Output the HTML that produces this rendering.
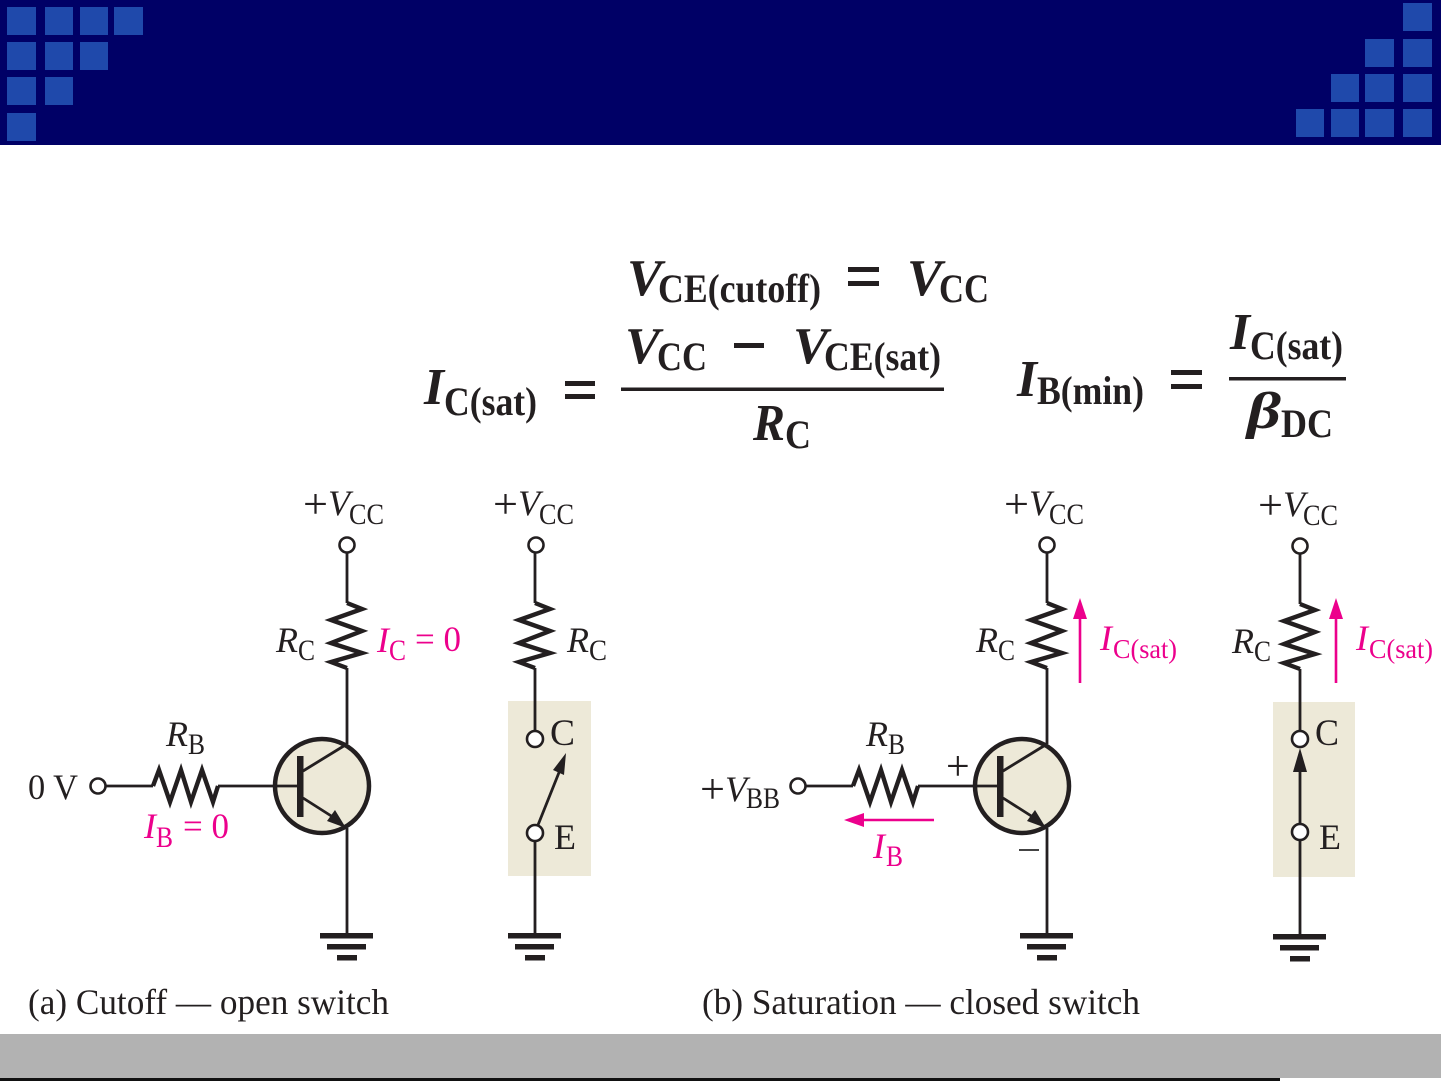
<!DOCTYPE html>
<html><head><meta charset="utf-8"><style>
html,body{margin:0;padding:0;background:#fff}
svg{display:block}
text{font-family:"Liberation Serif",serif;fill:#231f20}
.i{font-style:italic;font-size:36px}
.s{font-size:30px}
.r{font-size:36px}
.pl{font-size:42px}
.p{fill:#ec008c}
.b{font-weight:bold;font-style:italic;font-size:52px}
.bs{font-weight:bold;font-size:40px}
.w{fill:none;stroke:#231f20;stroke-width:2.8}
.z{fill:none;stroke:#231f20;stroke-width:4.4;stroke-linejoin:miter}
.o{fill:#fff;stroke:#231f20;stroke-width:2.6}
</style></head><body>
<svg width="1441" height="1081" viewBox="0 0 1441 1081" xmlns="http://www.w3.org/2000/svg">
<defs>
<path id="rv" class="z" d="M0,0 L15,6 L-16,17 L15,28 L-16,40 L15,50 L-16,59 L0,65"/>
<path id="rh" class="z" d="M0,0 L6,-16 L17,16 L28,-16 L38,16 L49,-16 L60,16 L65,0"/>
<g id="gnd" fill="#231f20"><rect x="-27" y="933" width="53" height="5.5"/><rect x="-20" y="944" width="39" height="5.5"/><rect x="-10" y="955" width="20" height="5.5"/></g>
<g id="q">
<circle cx="0" cy="0" r="47" fill="#ede9d8" stroke="#231f20" stroke-width="4.5"/>
<path class="w" d="M-47,0H-22"/>
<rect x="-25" y="-30" width="6.5" height="61" fill="#231f20"/>
<path class="w" d="M-19,-15 L25,-42 M-19,12 L14,33"/>
<path d="M24,42 L5,35 L13,24 Z" fill="#231f20"/>
</g>
</defs>
<rect width="1441" height="145" fill="#000066"/>
<g fill="#1f49ab">
<rect x="7" y="7" width="29" height="28"/><rect x="45" y="7" width="28" height="28"/><rect x="80" y="7" width="28" height="28"/><rect x="114" y="7" width="29" height="28"/>
<rect x="7" y="42" width="29" height="28"/><rect x="45" y="42" width="28" height="28"/><rect x="80" y="42" width="28" height="28"/>
<rect x="7" y="77" width="29" height="28"/><rect x="45" y="77" width="28" height="28"/>
<rect x="7" y="113" width="29" height="28"/>
<rect x="1403" y="3" width="29" height="28"/>
<rect x="1365" y="39" width="29" height="28"/><rect x="1403" y="39" width="29" height="28"/>
<rect x="1331" y="74" width="28" height="28"/><rect x="1365" y="74" width="29" height="28"/><rect x="1403" y="74" width="29" height="28"/>
<rect x="1296" y="109" width="28" height="28"/><rect x="1331" y="109" width="28" height="28"/><rect x="1365" y="109" width="29" height="28"/><rect x="1403" y="109" width="29" height="28"/>
</g>
<rect y="1034" width="1441" height="44" fill="#b2b2b2"/>
<rect y="1078" width="1280" height="3" fill="#111"/>

<!-- equations -->
<text class="b" x="627" y="295" textLength="35" lengthAdjust="spacingAndGlyphs">V</text>
<text class="bs" x="658" y="302" textLength="163" lengthAdjust="spacingAndGlyphs">CE(cutoff)</text>
<rect x="848" y="267" width="31" height="5" fill="#231f20"/><rect x="848" y="281" width="31" height="5" fill="#231f20"/>
<text class="b" x="907" y="295" textLength="35" lengthAdjust="spacingAndGlyphs">V</text>
<text class="bs" x="939" y="302" textLength="50" lengthAdjust="spacingAndGlyphs">CC</text>

<text class="b" x="424" y="404" textLength="20" lengthAdjust="spacingAndGlyphs">I</text>
<text class="bs" x="444" y="415" textLength="93" lengthAdjust="spacingAndGlyphs">C(sat)</text>
<rect x="565" y="381" width="30" height="5" fill="#231f20"/><rect x="565" y="394" width="30" height="5" fill="#231f20"/>
<rect x="621" y="387.5" width="323" height="3.5" fill="#231f20"/>
<text class="b" x="625" y="363" textLength="35" lengthAdjust="spacingAndGlyphs">V</text>
<text class="bs" x="657" y="370" textLength="50" lengthAdjust="spacingAndGlyphs">CC</text>
<rect x="734" y="343" width="30" height="5" fill="#231f20"/>
<text class="b" x="793" y="363" textLength="35" lengthAdjust="spacingAndGlyphs">V</text>
<text class="bs" x="824" y="370" textLength="117" lengthAdjust="spacingAndGlyphs">CE(sat)</text>
<text class="b" x="753" y="440" textLength="32" lengthAdjust="spacingAndGlyphs">R</text>
<text class="bs" x="785" y="448" textLength="26" lengthAdjust="spacingAndGlyphs">C</text>

<text class="b" x="1017" y="396" textLength="20" lengthAdjust="spacingAndGlyphs">I</text>
<text class="bs" x="1037" y="404" textLength="107" lengthAdjust="spacingAndGlyphs">B(min)</text>
<rect x="1171" y="370" width="31" height="5" fill="#231f20"/><rect x="1171" y="384" width="31" height="5" fill="#231f20"/>
<text class="b" x="1230" y="349" textLength="20" lengthAdjust="spacingAndGlyphs">I</text>
<text class="bs" x="1250" y="359" textLength="93" lengthAdjust="spacingAndGlyphs">C(sat)</text>
<rect x="1229" y="377" width="117" height="3.5" fill="#231f20"/>
<text class="b" x="1247" y="428" textLength="34" lengthAdjust="spacingAndGlyphs">β</text>
<text class="bs" x="1281" y="437" textLength="52" lengthAdjust="spacingAndGlyphs">DC</text>

<!-- shaded switches -->
<rect x="508" y="701" width="83" height="175" fill="#ede9d8"/>
<rect x="1273" y="702" width="82" height="175" fill="#ede9d8"/>

<!-- circuit a -->
<path class="w" d="M347,553V603M347,668V744M347,828V935M105,786H153M218,786H276"/>
<use href="#rv" x="347" y="603"/><use href="#rh" x="153" y="786"/>
<use href="#q" x="322" y="786"/><use href="#gnd" x="347"/>
<circle class="o" cx="347" cy="545" r="7.5"/><circle class="o" cx="98" cy="786" r="7.5"/>

<!-- switch a -->
<path class="w" d="M535,553V603M535,668V731M535,841V935M538,825L560,770"/>
<path d="M566,753L564,775L553,770Z" fill="#231f20"/>
<use href="#rv" x="535" y="603"/><use href="#gnd" x="535"/>
<circle class="o" cx="536" cy="545" r="7.5"/><circle class="o" cx="535" cy="739" r="8"/><circle class="o" cx="535" cy="833" r="8"/>

<!-- circuit b -->
<path class="w" d="M1047,553V603M1047,668V744M1047,828V935M806,786H853M918,786H976"/>
<use href="#rv" x="1047" y="603"/><use href="#rh" x="853" y="786"/>
<use href="#q" x="1022" y="786"/><use href="#gnd" x="1047"/>
<circle class="o" cx="1047" cy="545" r="7.5"/><circle class="o" cx="798" cy="786" r="7.5"/>
<path d="M1080,683V612M1336,683V612M934,820H860" fill="none" stroke="#ec008c" stroke-width="2.6"/>
<path d="M1080,598L1087,619H1073ZM1336,598L1343,619H1329ZM844,820L864,813V827Z" fill="#ec008c"/>
<text x="946" y="780" style="font-size:42px">+</text>
<rect x="1019" y="849" width="20" height="2" fill="#444"/>

<!-- switch b -->
<path class="w" d="M1300,554V604M1300,669V731M1300,824V770M1300,840V936"/>
<path d="M1300,748L1307,772H1293Z" fill="#231f20"/>
<use href="#rv" x="1300" y="604"/><use href="#gnd" x="1300" y="1"/>
<circle class="o" cx="1300" cy="546" r="7.5"/><circle class="o" cx="1300" cy="739" r="8"/><circle class="o" cx="1300" cy="832" r="8"/>

<!-- labels a -->
<text class="pl" x="303" y="518" textLength="25" lengthAdjust="spacingAndGlyphs">+</text><text class="i" x="328" y="515">V</text><text class="s" x="349" y="524" textLength="35" lengthAdjust="spacingAndGlyphs">CC</text>
<text class="pl" x="493" y="518" textLength="25" lengthAdjust="spacingAndGlyphs">+</text><text class="i" x="518" y="515">V</text><text class="s" x="539" y="524" textLength="35" lengthAdjust="spacingAndGlyphs">CC</text>
<text class="i" x="276" y="652">R</text><text class="s" x="298" y="660" textLength="17" lengthAdjust="spacingAndGlyphs">C</text>
<text class="i" x="567" y="652">R</text><text class="s" x="589" y="660" textLength="18" lengthAdjust="spacingAndGlyphs">C</text>
<text class="i p" x="377" y="652">I</text><text class="s p" x="389" y="660" textLength="17" lengthAdjust="spacingAndGlyphs">C</text><text class="r p" x="415" y="651" textLength="46" lengthAdjust="spacingAndGlyphs">= 0</text>
<text class="i" x="166" y="746">R</text><text class="s" x="188" y="754" textLength="17" lengthAdjust="spacingAndGlyphs">B</text>
<text class="r" x="28" y="799" textLength="50" lengthAdjust="spacingAndGlyphs">0 V</text>
<text class="i p" x="144" y="838">I</text><text class="s p" x="156" y="847" textLength="17" lengthAdjust="spacingAndGlyphs">B</text><text class="r p" x="183" y="838" textLength="46" lengthAdjust="spacingAndGlyphs">= 0</text>
<text class="r" x="550" y="745" style="font-size:37px" textLength="25" lengthAdjust="spacingAndGlyphs">C</text><text class="r" x="554" y="849" style="font-size:36px" textLength="22" lengthAdjust="spacingAndGlyphs">E</text>
<text x="28" y="1014" style="font-size:36px" textLength="361" lengthAdjust="spacingAndGlyphs">(a) Cutoff — open switch</text>

<!-- labels b -->
<text class="pl" x="1004" y="518" textLength="25" lengthAdjust="spacingAndGlyphs">+</text><text class="i" x="1029" y="515">V</text><text class="s" x="1049" y="524" textLength="35" lengthAdjust="spacingAndGlyphs">CC</text>
<text class="pl" x="1258" y="519" textLength="25" lengthAdjust="spacingAndGlyphs">+</text><text class="i" x="1283" y="516">V</text><text class="s" x="1303" y="525" textLength="35" lengthAdjust="spacingAndGlyphs">CC</text>
<text class="i" x="976" y="652">R</text><text class="s" x="998" y="660" textLength="17" lengthAdjust="spacingAndGlyphs">C</text>
<text class="i" x="1232" y="653">R</text><text class="s" x="1254" y="661" textLength="17" lengthAdjust="spacingAndGlyphs">C</text>
<text class="i p" x="1100" y="650">I</text><text class="p" x="1113" y="658" style="font-size:27px" textLength="64" lengthAdjust="spacingAndGlyphs">C(sat)</text>
<text class="i p" x="1356" y="650">I</text><text class="p" x="1369" y="658" style="font-size:27px" textLength="64" lengthAdjust="spacingAndGlyphs">C(sat)</text>
<text class="i" x="866" y="746">R</text><text class="s" x="888" y="754" textLength="17" lengthAdjust="spacingAndGlyphs">B</text>
<text class="pl" x="700" y="803" textLength="25" lengthAdjust="spacingAndGlyphs">+</text><text class="i" x="725" y="801">V</text><text class="s" x="746" y="808" textLength="34" lengthAdjust="spacingAndGlyphs">BB</text>
<text class="i p" x="873" y="858">I</text><text class="s p" x="886" y="866" textLength="17" lengthAdjust="spacingAndGlyphs">B</text>
<text class="r" x="1315" y="745" style="font-size:37px" textLength="24" lengthAdjust="spacingAndGlyphs">C</text><text class="r" x="1319" y="849" style="font-size:36px" textLength="22" lengthAdjust="spacingAndGlyphs">E</text>
<text x="702" y="1014" style="font-size:36px" textLength="438" lengthAdjust="spacingAndGlyphs">(b) Saturation — closed switch</text>
</svg>
</body></html>
